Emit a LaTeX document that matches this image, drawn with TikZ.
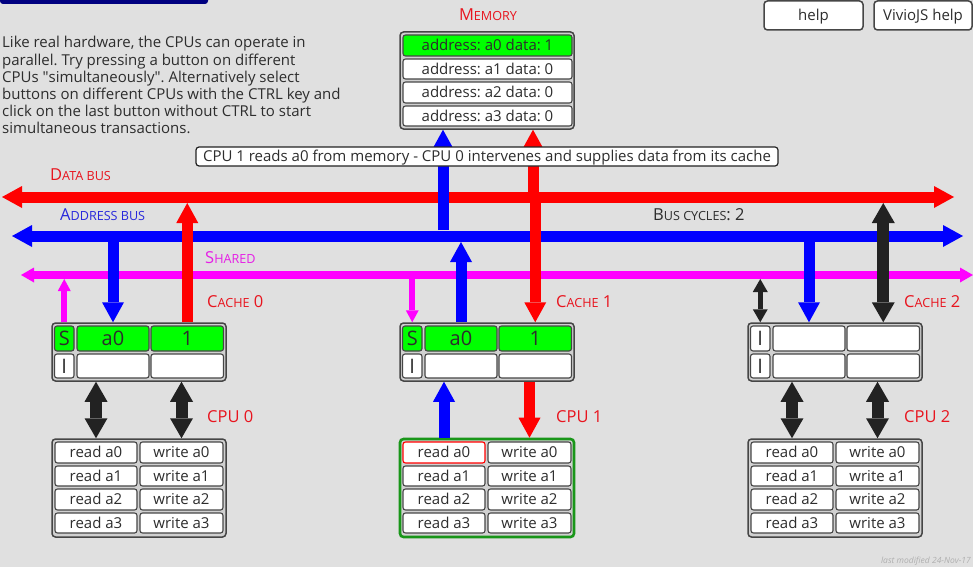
\documentclass[tikz,border=0pt]{standalone}
\usepackage{fontspec}
\setmainfont{Open Sans}
\usetikzlibrary{arrows.meta,fit}
\definecolor{bg}{RGB}{224,224,224}
\definecolor{contfill}{RGB}{208,208,208}
\definecolor{navy}{RGB}{0,0,128}
\definecolor{lime}{RGB}{0,255,0}
\definecolor{busred}{RGB}{255,0,0}
\definecolor{busblue}{RGB}{0,0,255}
\definecolor{busmag}{RGB}{255,0,255}
\definecolor{dark}{RGB}{34,34,34}
\definecolor{lblred}{RGB}{232,20,30}
\definecolor{lblblue}{RGB}{40,40,220}
\definecolor{lblmag}{RGB}{230,30,230}
\definecolor{frame}{RGB}{70,70,70}
\definecolor{cpugreen}{RGB}{25,150,25}
\definecolor{txt}{RGB}{45,45,45}
\definecolor{faint}{RGB}{175,175,175}
\frenchspacing
\newcommand\fsz[1]{\fontsize{#1}{#1}\selectfont}
\newcommand\scap[3]{{\fsz{#3}#1}{\fsz{12.6}#2}}
\newcommand\qq{\XeTeXglyph\XeTeXcharglyph"22\relax}
\newcommand\cellat[7][]{\node[#1,minimum width={(#5)*1pt-(#3)*1pt},minimum height={(#6)*1pt-(#4)*1pt},anchor=center] (#2) at ({((#3)+(#5))/2},{((#4)+(#6))/2}) {#7};}
\newcommand\cacheunit[6]{%
\cellat[contbox]{c#1}{52+#2}{323}{226+#2}{381}{}
\cellat[bigcell,fill=#6]{c#1s1}{54.5+#2}{326}{74+#2}{351}{#3}
\cellat[bigcell,fill=#6]{c#1a1}{77+#2}{326}{149+#2}{351}{#4}
\cellat[bigcell,fill=#6]{c#1d1}{151+#2}{326}{223.5+#2}{351}{#5}
\cellat[bigcell]{c#1s2}{54.5+#2}{354}{74+#2}{378}{I}
\cellat[bigcell]{c#1a2}{77+#2}{354}{149+#2}{378}{}
\cellat[bigcell]{c#1d2}{151+#2}{354}{223.5+#2}{378}{}
}
\newcommand\cpuunit[4]{%
\cellat[contbox,#3]{p#1}{52+#2}{439}{226+#2}{537}{}
\cellat[cellbx,#4]{p#1r0}{55+#2}{442}{137+#2}{463}{read a0}
\cellat[cellbx]{p#1w0}{140+#2}{442}{223+#2}{463}{write a0}
\cellat[cellbx]{p#1r1}{55+#2}{466}{137+#2}{486}{read a1}
\cellat[cellbx]{p#1w1}{140+#2}{466}{223+#2}{486}{write a1}
\cellat[cellbx]{p#1r2}{55+#2}{489}{137+#2}{510}{read a2}
\cellat[cellbx]{p#1w2}{140+#2}{489}{223+#2}{510}{write a2}
\cellat[cellbx]{p#1r3}{55+#2}{513}{137+#2}{533}{read a3}
\cellat[cellbx]{p#1w3}{140+#2}{513}{223+#2}{533}{write a3}
}
\begin{document}
\begin{tikzpicture}[x=1pt,y=-1pt,
  contbox/.style={draw=frame,fill=contfill,rounded corners=3.5pt,line width=1.5pt,inner sep=0pt},
  cellbx/.style={draw=frame,fill=white,rounded corners=2.5pt,line width=1.1pt,inner sep=0pt,
    text=txt,font=\fsz{15},text height=10.5pt,text depth=0pt},
  bigcell/.style={cellbx,font=\fsz{20},text height=14pt},
  lbl/.style={inner sep=0pt,anchor=west,text height=11pt,text depth=0pt},
  bigv/.style={line width=11pt,-{Triangle[width=22pt,length=20pt,line width=0pt]}},
  bigdbl/.style={draw=dark,line width=12pt,{Triangle[width=23pt,length=20pt,line width=0pt]}-{Triangle[width=23pt,length=20pt,line width=0pt]}},
  thinv/.style={line width=6pt,-{Triangle[width=13pt,length=12pt,line width=0pt]}},
  thindbl/.style={draw=dark,line width=5pt,{Triangle[width=15pt,length=13pt,line width=0pt]}-{Triangle[width=15pt,length=13pt,line width=0pt]}},
  bus/.style={line width=11pt,{Triangle[width=22pt,length=20pt,line width=0pt]}-{Triangle[width=22pt,length=20pt,line width=0pt]}},
  sbus/.style={line width=8pt,{Triangle[width=15pt,length=13pt,line width=0pt]}-{Triangle[width=15pt,length=13pt,line width=0pt]}}]
% background
\fill[bg] (0,0) rectangle (973,567);
\useasboundingbox (0,0) rectangle (973,567);
\fill[navy,rounded corners=3pt] (0,-6) rectangle (208,4);
% intro text
\node[anchor=north west,inner sep=0pt,align=left,text=txt,font=\fontsize{15}{17.2}\selectfont\frenchspacing] (intro) at (2,36.3)
  {Like real hardware, the CPUs can operate in\\parallel. Try pressing a button on different\\CPUs \qq simultaneously\qq. Alternatively select\\buttons on different CPUs with the CTRL key and\\click on the last button without CTRL to start\\simultaneous transactions.};
% help buttons
\cellat[cellbx,rounded corners=3.5pt,line width=1.5pt]{help}{764}{1}{863}{30}{help}
\cellat[cellbx,rounded corners=3.5pt,line width=1.5pt]{vhelp}{874}{1}{972}{30}{VivioJS help}
% memory
\node[inner sep=0pt,text=lblred,text height=12pt,text depth=0pt] (memlbl) at (488,15) {\scap{M}{EMORY}{16.5}};
\cellat[contbox]{mem}{400}{32}{574}{129}{}
\cellat[cellbx,fill=lime]{m0}{403}{35}{572}{56}{address: a0 data: 1}
\cellat[cellbx]{m1}{403}{59}{572}{79}{address: a1 data: 0}
\cellat[cellbx]{m2}{403}{82}{572}{103}{address: a2 data: 0}
\cellat[cellbx]{m3}{403}{106}{572}{126}{address: a3 data: 0}
% bus labels
\node[lbl,text=lblred] (dlbl) at (50,175) {\scap{D}{ATA BUS}{16.5}};
\node[lbl,text=lblblue] (albl) at (60,215) {\scap{A}{DDRESS BUS}{16.5}};
\node[lbl,text=lblmag] (slbl) at (205,258) {\scap{S}{HARED}{16.5}};
\node[lbl,text=txt] (bclbl) at (653,215) {\scap{B}{US CYCLES}{16.5}\fsz{16.5}: 2};
% caches and cpus
\cacheunit{0}{0}{S}{a0}{1}{lime}
\cacheunit{1}{348}{S}{a0}{1}{lime}
\cacheunit{2}{696}{I}{}{}{white}
\cpuunit{0}{0}{}{}
\cpuunit{1}{348}{draw=cpugreen,line width=2.6pt}{draw=busred}
\cpuunit{2}{696}{}{}
\node[lbl,text=lblred] (c0lbl) at (207,302) {\scap{C}{ACHE}{16.5}\fsz{16.5} 0};
\node[lbl,text=lblred] (c1lbl) at (556,302) {\scap{C}{ACHE}{16.5}\fsz{16.5} 1};
\node[lbl,text=lblred] (c2lbl) at (904,302) {\scap{C}{ACHE}{16.5}\fsz{16.5} 2};
\node[lbl,text=lblred,font=\fsz{16.5}] (p0lbl) at (207,417) {CPU 0};
\node[lbl,text=lblred,font=\fsz{16.5}] (p1lbl) at (556,417) {CPU 1};
\node[lbl,text=lblred,font=\fsz{16.5}] (p2lbl) at (904,417) {CPU 2};
% bus coordinates
\coordinate (dataT) at (0,192); \coordinate (dataB) at (0,203);
\coordinate (addrT) at (0,230); \coordinate (addrB) at (0,242);
\coordinate (shB) at (0,279);
\coordinate (dataL) at (2,197); \coordinate (dataR) at (954,197);
\coordinate (addrL) at (12,236); \coordinate (addrR) at (963,236);
\coordinate (shL) at (21,275); \coordinate (shR) at (973,275);
\coordinate (mblue) at (443,0); \coordinate (mred) at (533,0);
% buses
\draw[bus,busred] (dataL) -- (dataR);
\draw[bus,busblue] (addrL) -- (addrR);
\draw[sbus,busmag] (shL) -- (shR);
% memory connectors
\draw[bigv,busblue] (mblue |- addrT) -- (mblue |- mem.south);
\draw[bigv,busred] (mred |- dataT) -- (mred |- mem.south);
% cache 0
\draw[thinv,busmag] (c0s1 |- c0.north) -- (c0s1 |- shB);
\draw[bigv,busblue] (c0a1 |- addrB) -- (c0a1 |- c0.north);
\draw[bigv,busred] (c0d1 |- c0.north) -- (c0d1 |- dataB);
\draw[bigdbl] (p0r0 |- c0.south) -- (p0r0 |- p0.north);
\draw[bigdbl] (p0w0 |- c0.south) -- (p0w0 |- p0.north);
% cache 1
\draw[thinv,busmag] (c1s1 |- shB) -- (c1s1 |- c1.north);
\draw[bigv,busblue] (c1a1 |- c1.north) -- (c1a1 |- addrB);
\draw[bigv,busred] (c1d1 |- dataT) -- (c1d1 |- c1.north);
\draw[bigv,busblue] (p1r0 |- p1.north) -- (p1r0 |- c1.south);
\draw[bigv,busred] (p1w0 |- c1.south) -- (p1w0 |- p1.north);
% cache 2
\draw[thindbl] (c2s1 |- shB) -- (c2s1 |- c2.north);
\draw[bigv,busblue] (c2a1 |- addrB) -- (c2a1 |- c2.north);
\draw[bigdbl] (c2d1 |- dataB) -- (c2d1 |- c2.north);
\draw[bigdbl] (p2r0 |- c2.south) -- (p2r0 |- p2.north);
\draw[bigdbl] (p2w0 |- c2.south) -- (p2w0 |- p2.north);
% status
\cellat[cellbx,draw=dark,rounded corners=3pt,line width=1.2pt]{status}{196}{147}{778}{166}{CPU 1 reads a0 from memory - CPU 0 intervenes and supplies data from its cache}
% footer
\node[anchor=east,inner sep=0pt,text=faint,font=\fsz{8.5}\itshape] (mod) at (971,561) {last modified 24-Nov-17};
\end{tikzpicture}
\end{document}
